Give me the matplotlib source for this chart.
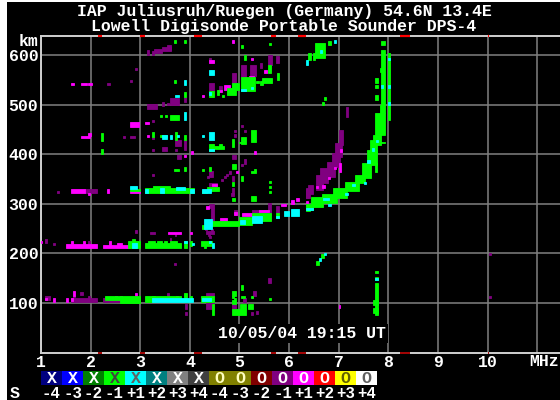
# Digisonde ionogram, echoes stored as (f0, f1, km0, km1) spans per status colour
import matplotlib
matplotlib.use('Agg')
import matplotlib.pyplot as plt
from matplotlib.patches import Rectangle

title1 = "IAP Juliusruh/Ruegen (Germany) 54.6N 13.4E"
title2 = "Lowell Digisonde Portable Sounder DPS-4"
stamp = "10/05/04 19:15 UT"

freq_ticks = [1, 2, 3, 4, 5, 6, 7, 8, 9, 10, 11]
freq_labels = ['1', '2', '3', '4', '5', '6', '7', '8', '9', '10', '']
km_ticks = [100, 200, 300, 400, 500, 600]
km_labels = ['100', '200', '300', '400', '500', '600']

# red tick marks along the frame (MHz)
red_marks = [(2.15, 2.23), (3.0, 3.1), (4.08, 4.25), (5.64, 5.74), (6.18, 6.34), (8.24, 8.44), (10.0, 10.03)]

# status legend
status_colors = ['#000080', '#0000ff', '#008000', '#00ff00', '#00ffff', '#008080', '#808080', '#404040',
                 '#808000', '#808000', '#800000', '#800080', '#ff00ff', '#ff0000', '#ffff00', '#ffffff']
status_marks = ['X'] * 8 + ['O'] * 8
status_mark_colors = ['white', 'white', 'white', '#404040', '#606060', 'white', 'white', 'white',
                      '#ffffc0', '#ffffc0', 'white', 'white', 'white', 'white', '#606000', '#606060']
status_labels = ['-4', '-3', '-2', '-1', '+1', '+2', '+3', '+4'] * 2

purple = [
    # 100 km layer
    (1.09, 1.18, 107, 115), (1.6, 2.13, 101, 111), (1.65, 1.69, 110, 115), (1.79, 1.84, 117, 122),
    (1.94, 1.99, 110, 115), (2.24, 2.6, 101, 110), (3.53, 3.58, 115, 120), (3.9, 3.94, 87, 97),
    (3.9, 3.94, 76, 81), (4.33, 4.48, 115, 120), (4.33, 4.48, 87, 100), (4.84, 4.93, 87, 97),
    (5.08, 5.13, 101, 110), (5.28, 5.33, 115, 125), (5.25, 5.28, 110, 115), (5.33, 5.37, 78, 84),
    (5.23, 5.27, 76, 81), (5.58, 5.63, 140, 150), (10.03, 10.07, 197, 200), (10.03, 10.07, 110, 114),
    (3.69, 3.73, 176, 180),
    # 200 km layer
    (1.09, 1.13, 221, 230), (1.25, 1.29, 217, 221), (1.94, 1.99, 219, 225), (2.89, 2.93, 242, 248),
    (3.19, 3.3, 240, 243), (3.59, 3.63, 226, 231), (3.7, 3.73, 236, 240), (4.33, 4.48, 240, 245),
    (4.38, 4.43, 231, 235),
    # 330 km layer
    (1.32, 1.37, 322, 326), (1.89, 2.13, 322, 330), (4.39, 4.54, 337, 342),
    # F trace left side
    (4.38, 4.49, 291, 300), (4.42, 4.49, 266, 291), (4.3, 4.34, 247, 252), (4.42, 4.46, 246, 250),
    (4.36, 4.4, 235, 240), (4.88, 4.95, 278, 288), (4.83, 4.88, 315, 322),
    (5.25, 5.64, 278, 288), (5.58, 5.64, 285, 301), (5.74, 5.79, 281, 296), (6.34, 6.42, 311, 331),
    # X-ray of the 7 MHz cusp
    (6.34, 6.38, 311, 332), (6.39, 6.49, 321, 338), (6.54, 6.69, 328, 358), (6.62, 6.79, 342, 372),
    (6.76, 6.93, 355, 385), (6.86, 7.03, 375, 402), (6.93, 7.06, 395, 422), (7.0, 7.08, 419, 449),
    (7.15, 7.19, 475, 495),
    # 350 to 470 km clutter
    (4.63, 4.67, 346, 350), (4.68, 4.72, 352, 356), (4.73, 4.77, 356, 360), (4.78, 4.83, 361, 366),
    (4.84, 4.88, 346, 356), (4.84, 4.88, 320, 332), (4.84, 4.93, 391, 399), (4.89, 4.93, 445, 450),
    (4.89, 4.93, 436, 441), (5.04, 5.08, 455, 460), (5.09, 5.13, 445, 450), (5.09, 5.13, 380, 390),
    (5.04, 5.08, 376, 380), (3.7, 3.83, 416, 430), (3.89, 3.93, 409, 430), (3.24, 3.28, 406, 411),
    (3.44, 3.53, 406, 415), (3.7, 3.75, 406, 410), (3.75, 3.83, 391, 399), (3.24, 3.28, 466, 470),
    (3.24, 3.28, 431, 435), (2.79, 2.89, 434, 438), (2.65, 2.69, 434, 438), (3.24, 3.28, 356, 360),
    (4.39, 4.47, 355, 366), (4.35, 4.39, 352, 356),
    # 500 to 620 km
    (3.14, 3.18, 600, 610), (3.24, 3.28, 600, 608), (3.28, 3.43, 604, 613), (3.43, 3.63, 609, 616),
    (3.54, 3.63, 611, 620), (2.89, 2.93, 570, 575), (2.79, 2.83, 546, 550), (2.33, 2.39, 540, 545),
    (3.14, 3.34, 491, 502), (3.44, 3.48, 497, 505), (3.54, 3.58, 500, 504), (3.6, 3.79, 500, 513),
    (3.89, 3.93, 505, 515), (4.39, 4.49, 527, 545), (4.59, 4.64, 530, 539), (4.84, 4.94, 544, 565),
    (4.94, 5.0, 537, 544), (5.04, 5.14, 557, 580), (5.22, 5.33, 558, 580), (5.58, 5.65, 580, 600),
    (5.74, 5.79, 585, 598), (5.42, 5.46, 575, 585), (4.39, 4.43, 590, 594),
]

magenta = [
    (1.09, 1.13, 107, 111), (1.25, 1.29, 102, 111), (1.5, 1.54, 101, 110), (1.6, 1.64, 104, 111),
    (1.65, 1.69, 115, 125), (2.49, 2.53, 111, 115), (2.6, 2.64, 111, 115), (2.89, 2.93, 111, 120),
    (3.72, 3.76, 110, 114), (7.0, 7.03, 90, 96),
    # 200 km layer
    (1.0, 1.03, 221, 226), (1.5, 2.13, 211, 219), (1.6, 1.64, 219, 225), (1.84, 1.88, 219, 225),
    (2.24, 2.79, 211, 217), (2.38, 2.42, 217, 225), (2.54, 2.63, 214, 221), (3.55, 3.83, 240, 243),
    (4.0, 4.04, 240, 243),
    # 330 km layer
    (1.6, 1.89, 322, 330), (1.95, 1.99, 318, 322), (2.33, 2.37, 322, 330), (2.79, 3.0, 322, 326),
    (4.44, 4.54, 337, 340),
    # F trace
    (4.6, 4.75, 266, 271), (5.05, 5.25, 276, 281), (5.4, 5.6, 283, 288), (4.88, 4.95, 278, 283),
    (4.33, 4.38, 290, 296), (5.84, 5.94, 296, 300), (6.03, 6.09, 300, 308), (6.13, 6.19, 305, 311),
    (7.0, 7.04, 365, 382), (6.9, 6.94, 370, 375), (6.66, 6.72, 332, 338), (6.54, 6.58, 332, 336),
    (6.78, 6.82, 350, 355), (7.03, 7.07, 405, 410), (6.34, 6.38, 302, 306),
    # upper clutter
    (4.93, 4.97, 362, 366), (5.29, 5.33, 400, 407), (4.03, 4.07, 400, 406), (3.89, 3.93, 395, 399),
    (3.14, 3.18, 436, 440), (1.8, 1.99, 434, 438), (1.95, 2.01, 438, 444), (2.79, 2.98, 456, 465),
    (3.09, 3.17, 461, 465), (1.6, 1.66, 540, 545), (1.8, 1.92, 540, 545), (1.95, 2.02, 540, 545),
    (4.25, 4.29, 515, 520), (4.59, 4.64, 525, 530), (4.68, 4.8, 530, 540), (5.2, 5.3, 555, 559),
    (4.39, 4.48, 585, 590), (5.23, 5.27, 590, 594), (4.84, 4.88, 625, 630), (5.5, 5.56, 565, 570),
]

green = [
    # 100 km layer
    (2.29, 3.0, 105, 115), (2.6, 3.0, 100, 110), (3.09, 3.3, 101, 115), (3.24, 3.83, 110, 115),
    (3.89, 3.94, 110, 120), (4.0, 4.04, 105, 115), (4.23, 4.48, 101, 115), (4.44, 4.48, 76, 97),
    (4.84, 4.93, 115, 125), (4.84, 4.89, 110, 115), (5.04, 5.08, 127, 136), (5.04, 5.12, 110, 115),
    (4.84, 4.93, 97, 105), (4.89, 4.94, 105, 110), (4.84, 5.13, 76, 87), (5.02, 5.13, 87, 97),
    (5.18, 5.27, 87, 97), (5.23, 5.28, 110, 115), (5.6, 5.63, 106, 110),
    (7.73, 7.79, 76, 140), (7.69, 7.79, 96, 106), (7.69, 7.79, 80, 90), (7.73, 7.79, 160, 165),
    (7.73, 7.79, 146, 152),
    # hook near 200 km
    (6.55, 6.6, 177, 185), (6.65, 6.7, 190, 198),
    # 200 km layer
    (2.76, 3.0, 211, 225), (2.84, 2.89, 225, 230), (3.09, 3.83, 211, 221), (3.15, 3.3, 221, 226),
    (3.33, 3.43, 221, 226), (3.48, 3.53, 221, 226), (3.59, 3.74, 221, 226), (3.89, 3.94, 211, 225),
    (4.0, 4.04, 215, 225), (4.23, 4.44, 216, 225), (4.28, 4.33, 211, 216),
    # 330 km layer
    (2.79, 3.0, 326, 330), (3.1, 4.09, 322, 332), (3.25, 3.6, 332, 336), (4.35, 4.59, 326, 335),
    (4.25, 4.35, 322, 328),
    # F trace
    (4.25, 4.31, 249, 258), (4.44, 5.0, 256, 266), (5.0, 5.25, 258, 273), (5.25, 5.64, 266, 281),
    (5.74, 5.79, 271, 281), (6.34, 6.42, 286, 300), (4.84, 4.89, 336, 345), (4.84, 4.91, 305, 312),
    (5.23, 5.33, 305, 315), (5.6, 5.63, 343, 347), (5.6, 5.63, 333, 337), (5.6, 5.63, 323, 327),
    # main trace up to the cusp
    (6.34, 6.49, 287, 298), (6.44, 6.69, 293, 313), (6.66, 6.96, 301, 320), (6.89, 7.16, 311, 332),
    (7.13, 7.4, 327, 345), (7.33, 7.53, 342, 358), (7.46, 7.66, 352, 382), (7.58, 7.78, 378, 409),
    (7.73, 7.78, 365, 382), (7.63, 7.78, 402, 429), (7.7, 7.85, 419, 440), (7.73, 7.93, 440, 484),
    (7.83, 7.93, 422, 426), (7.83, 7.93, 484, 500), (7.86, 7.93, 500, 611), (7.86, 7.93, 621, 629),
    (8.0, 8.04, 470, 605), (7.74, 7.79, 544, 554), (7.74, 7.79, 535, 540), (7.74, 7.79, 510, 520),
    (7.83, 7.88, 566, 575),
    # 6.5 MHz upper trace
    (6.52, 6.73, 595, 625), (6.38, 6.44, 590, 605), (6.48, 6.52, 590, 605), (6.79, 6.84, 621, 629),
    (6.7, 6.74, 510, 515), (6.66, 6.7, 500, 505),
    # upper clutter
    (3.69, 3.79, 366, 370), (3.89, 3.93, 366, 375), (4.24, 4.28, 366, 370), (4.39, 4.43, 366, 375),
    (4.84, 4.93, 371, 380), (5.04, 5.08, 346, 356), (5.23, 5.33, 362, 367), (5.29, 5.33, 367, 371),
    (2.2, 2.25, 428, 443), (2.2, 2.25, 400, 410), (3.24, 3.28, 435, 445), (3.4, 3.53, 436, 440),
    (3.7, 3.75, 430, 445), (3.89, 3.93, 430, 440), (4.39, 4.48, 406, 420), (4.48, 4.68, 411, 416),
    (4.59, 4.64, 416, 420), (4.84, 4.88, 415, 431), (5.04, 5.14, 421, 435), (4.99, 5.04, 422, 426),
    (5.23, 5.33, 426, 450), (3.4, 3.44, 476, 480), (3.5, 3.54, 476, 480), (3.6, 3.79, 470, 480),
    # 500 to 630 km
    (3.69, 3.73, 625, 630), (3.89, 3.93, 625, 630), (5.04, 5.08, 615, 620), (5.09, 5.13, 590, 600),
    (3.69, 3.73, 545, 550), (3.89, 3.93, 515, 525), (4.39, 4.49, 515, 527), (4.55, 4.59, 520, 530),
    (4.64, 4.69, 515, 520), (4.74, 4.94, 520, 534), (4.84, 4.99, 530, 544), (5.04, 5.31, 527, 556),
    (5.41, 5.47, 540, 548), (5.46, 5.66, 544, 554), (5.58, 5.63, 564, 580), (5.76, 5.8, 550, 565),
    (5.6, 5.64, 620, 625), (5.34, 5.4, 545, 549),
]

cyan = [
    (3.24, 4.07, 101, 110), (4.25, 4.42, 103, 110), (7.73, 7.79, 146, 150),
    (6.6, 6.65, 185, 190), (6.7, 6.74, 196, 200),
    (2.84, 2.94, 211, 221), (3.89, 3.94, 221, 225), (4.04, 4.09, 218, 221), (4.38, 4.43, 221, 225),
    (4.44, 4.48, 211, 221),
    (2.79, 2.94, 330, 336), (3.1, 3.15, 322, 330), (3.4, 3.47, 322, 333), (3.72, 3.9, 328, 334),
    (4.0, 4.09, 322, 330), (4.25, 4.42, 322, 330),
    # F trace
    (4.29, 4.44, 249, 269), (5.01, 5.11, 259, 268), (5.25, 5.45, 261, 276), (5.74, 5.79, 271, 276),
    (5.89, 6.0, 276, 286), (6.04, 6.19, 276, 290), (6.34, 6.49, 287, 292), (6.69, 6.8, 308, 312),
    (6.78, 6.84, 296, 300), (7.13, 7.19, 318, 322), (7.27, 7.33, 336, 340), (7.5, 7.55, 340, 345),
    (7.58, 7.63, 383, 388), (7.68, 7.72, 406, 412), (7.75, 7.8, 425, 430),
    (7.85, 7.9, 535, 540), (8.0, 8.04, 535, 540), (8.0, 8.04, 500, 505), (8.0, 8.04, 590, 594),
    # scattered above
    (6.34, 6.38, 580, 590), (6.9, 6.94, 625, 630), (6.62, 6.66, 605, 610),
    (3.89, 3.93, 470, 485), (3.44, 3.54, 431, 440), (3.6, 3.64, 431, 440), (3.75, 3.79, 436, 440),
    (4.24, 4.28, 436, 440), (4.39, 4.48, 430, 445), (4.39, 4.48, 406, 411), (3.89, 3.93, 540, 550),
    (3.7, 3.79, 515, 520), (4.39, 4.43, 520, 525), (4.39, 4.48, 560, 570), (5.04, 5.14, 527, 531),
    (5.23, 5.27, 532, 537),
]


def draw_spans(ax, spans, color):
    lefts = [s[0] for s in spans]
    widths = [s[1] - s[0] for s in spans]
    bottoms = [s[2] for s in spans]
    heights = [s[3] - s[2] for s in spans]
    ax.bar(lefts, heights, width=widths, bottom=bottoms, align='edge', color=color,
           edgecolor=color, linewidth=0.6, zorder=3)


plt.rcParams['font.family'] = 'Liberation Mono'
plt.rcParams['font.weight'] = 'bold'
FS = 11.9

W, H = 560, 400
fig = plt.figure(figsize=(W / 100, H / 100), dpi=100, facecolor='white')
fig.patches.append(Rectangle((7 / W, 0), 1 - 7 / W, 1 - 2 / H, transform=fig.transFigure,
                             facecolor='black', edgecolor='none', zorder=-5))

ax = fig.add_axes([41 / W, 1 - 352.5 / H, (W - 41) / W, (352.5 - 36) / H], facecolor='black')
ax.set_xlim(1, 11.46)
ax.set_ylim(0, 639)
ax.set_xticks(freq_ticks)
ax.set_xticklabels(freq_labels, fontsize=FS, color='white')
ax.set_yticks(km_ticks)
ax.set_yticklabels(km_labels, fontsize=FS, color='white')
ax.tick_params(length=0, pad=2)
ax.grid(True, color='#808080', lw=1.1, zorder=1)
ax.set_axisbelow(True)
for side in ['top', 'bottom', 'left']:
    ax.spines[side].set_color('#d0d0d0')
    ax.spines[side].set_linewidth(1.4)
ax.spines['right'].set_visible(False)

draw_spans(ax, purple, '#800080')
draw_spans(ax, magenta, '#ff00ff')
draw_spans(ax, green, '#00ff00')
draw_spans(ax, cyan, '#00ffff')

for f0, f1 in red_marks:
    ax.plot([f0, f1], [639, 639], color='#ff0000', lw=1.6, solid_capstyle='butt', zorder=5, clip_on=False)
    ax.plot([f0, f1], [0, 0], color='#a00000', lw=1.4, solid_capstyle='butt', zorder=5, clip_on=False)

ax.text(6.26, 39, stamp, color='white', fontsize=FS, ha='center', va='center', zorder=4,
        bbox=dict(facecolor='black', edgecolor='none', pad=1.5))

fig.text(284 / W, 1 - 11.5 / H, title1, color='white', fontsize=FS, ha='center', va='center')
fig.text(284 / W, 1 - 26.5 / H, title2, color='white', fontsize=FS, ha='center', va='center')
fig.text(38 / W, 1 - 41 / H, 'km', color='white', fontsize=FS, ha='right', va='center')
fig.text(544 / W, 1 - 361 / H, 'MHz', color='white', fontsize=FS, ha='center', va='center')
fig.text(15 / W, 1 - 393 / H, 'S', color='white', fontsize=FS, ha='center', va='center')

# status legend strip
leg = fig.add_axes([41 / W, 1 - 384.5 / H, 336 / W, 13.5 / H], facecolor='black')
leg.bar(range(16), [1] * 16, width=1, align='edge', color=status_colors, linewidth=0)
leg.set_xlim(0, 16)
leg.set_ylim(0, 1)
leg.set_yticks([])
leg.set_xticks([i + 0.5 for i in range(16)])
leg.set_xticklabels(status_labels, fontsize=FS - 0.6, color='white')
leg.tick_params(length=0, pad=1)
for s in leg.spines.values():
    s.set_visible(False)
for i in range(16):
    leg.text(i + 0.5, 0.47, status_marks[i], color=status_mark_colors[i], fontsize=FS,
             ha='center', va='center')

fig.savefig('out.png', dpi=100, facecolor=fig.get_facecolor())
